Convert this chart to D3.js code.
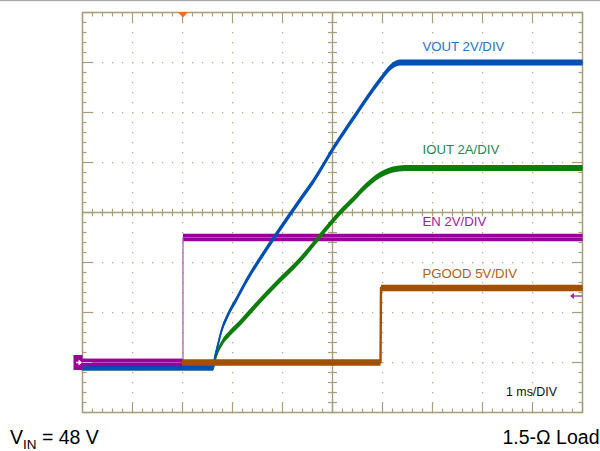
<!DOCTYPE html>
<html>
<head>
<meta charset="utf-8">
<script src="https://cdn.jsdelivr.net/npm/d3@7"></script>
<style>
  html, body { margin: 0; padding: 0; background: #fff; }
  svg { display: block; }
  text { font-family: "Liberation Sans", Arial, sans-serif; }
</style>
</head>
<body>
<svg id="chart" width="600" height="451"></svg>
<script>
// ---------- data (scope readings) ----------
const timeDomain = [-2, 8];          // ms, 1 ms/DIV, trigger at 0
const divDomain = [-4, 4];           // vertical divisions
const groundDiv = -3;                // channel ground reference

const voutTime = [-2, 0.61, 0.65, 0.716, 0.784, 0.884, 1.084, 1.316, 1.55, 1.884, 2.35, 2.616, 3.016, 3.484, 3.95, 4.216, 4.35, 8];
const voutVolts = [-0.2, -0.2, 0.23, 0.77, 1.3, 1.8, 2.55, 3.4, 4.15, 5.15, 6.5, 7.25, 8.57, 9.97, 11.3, 11.9, 12.0, 12.0];

const ioutTime = [-2, 0.61, 0.67, 0.79, 0.95, 1.15, 1.51, 1.89, 2.35, 2.85, 3.15, 3.4, 3.69, 3.95, 4.21, 4.45, 8];
const ioutAmps = [-0.2, -0.2, 0.26, 0.78, 1.18, 1.58, 2.38, 3.18, 4.1, 5.3, 6.0, 6.5, 7.1, 7.5, 7.72, 7.78, 7.78];

const enTime = [-2, 0.01, 0.01, 8];
const enVolts = [0, 0, 5.0, 5.0];

const pgoodTime = [-2, 3.96, 3.97, 8];
const pgoodVolts = [0, 0, 7.45, 7.45];

const channels = [
  { name: "VOUT", label: "VOUT 2V/DIV", perDiv: 2, t: voutTime, v: voutVolts },
  { name: "IOUT", label: "IOUT 2A/DIV", perDiv: 2, t: ioutTime, v: ioutAmps },
  { name: "PGOOD", label: "PGOOD 5V/DIV", perDiv: 5, t: pgoodTime, v: pgoodVolts },
  { name: "EN", label: "EN 2V/DIV", perDiv: 2, t: enTime, v: enVolts }
];
const timebaseLabel = "1 ms/DIV";
const loadLabel = "1.5-Ω Load";

// ---------- styles ----------
const style = {
  VOUT:  { trace: "#0050b4", text: "#2474c4", hw: 3.1, lw: 2, smooth: true, labelY: 50.5 },
  IOUT:  { trace: "#0b7e0b", text: "#1b8a5a", hw: 3.1, lw: 2, smooth: true, labelY: 154 },
  EN:    { trace: "#990099", text: "#a4209f", hw: 3.8, lw: 1.2, edge: "#b84ab8", labelY: 226 },
  PGOOD: { trace: "#a05000", text: "#b0601c", hw: 3.2, lw: 2.4, labelY: 277.5 }
};
const gridColor = "#a69e78";
const dotColor = "#b3ab8c";

const svg = d3.select("#chart");
const W = 600, H = 451;
const L = 82.5, R = 582.5, T = 12.5, B = 412.5;

const x = d3.scaleLinear().domain(timeDomain).range([L, R]);
const y = d3.scaleLinear().domain(divDomain).range([B, T]);

// top gray rule
svg.append("rect").attr("x", 0).attr("y", 0).attr("width", W).attr("height", 1.2).attr("fill", "#aaaaaa");

// ---------- graticule ----------
const g = svg.append("g");
const divX = d3.range(timeDomain[0], timeDomain[1] + 0.001, 1);
const divY = d3.range(divDomain[0], divDomain[1] + 0.001, 1);
const minorX = d3.range(timeDomain[0], timeDomain[1] + 0.001, 0.2);
const minorY = d3.range(divDomain[0], divDomain[1] + 0.001, 0.2);

divX.slice(1, -1).forEach(dx => {
  if (dx === 3) return;
  minorY.forEach(my => {
    g.append("rect").attr("x", x(dx) - 0.5).attr("y", y(my) - 0.5).attr("width", 1.3).attr("height", 1.3).attr("fill", dotColor);
  });
});
divY.slice(1, -1).forEach(dy => {
  if (dy === 0) return;
  minorX.forEach(mx => {
    g.append("rect").attr("x", x(mx) - 0.5).attr("y", y(dy) - 0.5).attr("width", 1.3).attr("height", 1.3).attr("fill", dotColor);
  });
});

g.append("line").attr("x1", x(3)).attr("x2", x(3)).attr("y1", T).attr("y2", B).attr("stroke", gridColor).attr("stroke-width", 1.4);
g.append("line").attr("x1", L).attr("x2", R).attr("y1", y(0)).attr("y2", y(0)).attr("stroke", gridColor).attr("stroke-width", 1.4);
minorY.forEach(my => {
  g.append("line").attr("x1", x(3) - 4.5).attr("x2", x(3) + 4.5).attr("y1", y(my)).attr("y2", y(my)).attr("stroke", gridColor).attr("stroke-width", 1.2);
});
minorX.forEach(mx => {
  g.append("line").attr("x1", x(mx)).attr("x2", x(mx)).attr("y1", y(0) - 3.8).attr("y2", y(0) + 3.8).attr("stroke", gridColor).attr("stroke-width", 1.2);
});

g.append("rect").attr("x", L).attr("y", T).attr("width", R - L).attr("height", B - T)
  .attr("fill", "none").attr("stroke", gridColor).attr("stroke-width", 1.5);
minorX.forEach(mx => {
  const isDiv = Math.abs(mx - Math.round(mx)) < 1e-6;
  const len = isDiv ? 10 : 4;
  g.append("line").attr("x1", x(mx)).attr("x2", x(mx)).attr("y1", T).attr("y2", T + len).attr("stroke", gridColor).attr("stroke-width", 1.2);
  g.append("line").attr("x1", x(mx)).attr("x2", x(mx)).attr("y1", B).attr("y2", B - len).attr("stroke", gridColor).attr("stroke-width", 1.2);
});
minorY.forEach(my => {
  const isDiv = Math.abs(my - Math.round(my)) < 1e-6;
  const len = isDiv ? 10 : 4;
  g.append("line").attr("x1", L).attr("x2", L + len).attr("y1", y(my)).attr("y2", y(my)).attr("stroke", gridColor).attr("stroke-width", 1.2);
  g.append("line").attr("x1", R).attr("x2", R - len).attr("y1", y(my)).attr("y2", y(my)).attr("stroke", gridColor).attr("stroke-width", 1.2);
});

// ---------- traces ----------
function pts(ch) { return ch.t.map((t, i) => ({ t, d: ch.v[i] / ch.perDiv + groundDiv })); }
function drawTrace(parent, ch) {
  const s = style[ch.name];
  const p = pts(ch);
  const curve = s.smooth ? d3.curveMonotoneX : d3.curveLinear;
  const area = d3.area().curve(curve).x(d => x(d.t)).y0(d => y(d.d) - s.hw).y1(d => y(d.d) + s.hw);
  const line = d3.line().curve(curve).x(d => x(d.t)).y(d => y(d.d));
  parent.append("path").attr("d", area(p)).attr("fill", s.trace);
  parent.append("path").attr("d", line(p)).attr("fill", "none")
    .attr("stroke", s.edge || s.trace).attr("stroke-width", s.lw).attr("stroke-linejoin", "round");
}
const traces = svg.append("g");
const byName = Object.fromEntries(channels.map(c => [c.name, c]));
drawTrace(traces, byName.EN);
drawTrace(traces, byName.IOUT);
drawTrace(traces, byName.VOUT);
drawTrace(traces, byName.PGOOD);
svg.append("clipPath").attr("id", "preTrig").append("rect")
  .attr("x", L - 2).attr("y", T).attr("width", x(0) - L + 1.5).attr("height", B - T);
drawTrace(svg.append("g").attr("clip-path", "url(#preTrig)"), byName.EN);

// ---------- markers ----------
svg.append("path").attr("d", d3.line()([[x(0) - 5, T - 0.5], [x(0) + 5.5, T - 0.5], [x(0) + 0.5, T + 5]])).attr("fill", "#ff6a1e");
const gy = y(groundDiv);
svg.append("rect").attr("x", 73.5).attr("y", gy - 7.5).attr("width", L - 73.5).attr("height", 15).attr("fill", "#990099");
svg.append("path").attr("d", d3.line()([[76, gy], [81, gy]])).attr("stroke", "#fff").attr("stroke-width", 1.5);
svg.append("path").attr("d", d3.line()([[82, gy], [78.5, gy - 3], [78.5, gy + 3]])).attr("fill", "#fff");
svg.append("path").attr("d", d3.line()([[82.5, gy], [92, gy]])).attr("stroke", "#e6a6e6").attr("stroke-width", 1);
const ly = 296;
svg.append("path").attr("d", d3.line()([[573, ly], [582, ly]])).attr("stroke", "#a020a0").attr("stroke-width", 1.3);
svg.append("path").attr("d", d3.line()([[570, ly], [574, ly - 3], [574, ly + 3]])).attr("fill", "#a020a0");

// ---------- labels ----------
channels.forEach(ch => {
  const s = style[ch.name];
  svg.append("text").attr("x", 422.5).attr("y", s.labelY).attr("font-size", 13.2)
    .attr("fill", s.text).text(ch.label);
});
svg.append("text").attr("x", 506).attr("y", 395.8).attr("font-size", 12.4).attr("fill", "#111").text(timebaseLabel);

const vin = svg.append("text").attr("x", 10).attr("y", 443.5).attr("font-size", 19.5).attr("fill", "#000");
vin.append("tspan").text("V");
vin.append("tspan").attr("dy", 5.5).attr("font-size", 13.5).text("IN");
vin.append("tspan").attr("dy", -5.5).text(" = 48 V");
svg.append("text").attr("x", 599.5).attr("y", 443.5).attr("font-size", 19.5).attr("text-anchor", "end").attr("fill", "#000").text(loadLabel);
</script>
</body>
</html>
